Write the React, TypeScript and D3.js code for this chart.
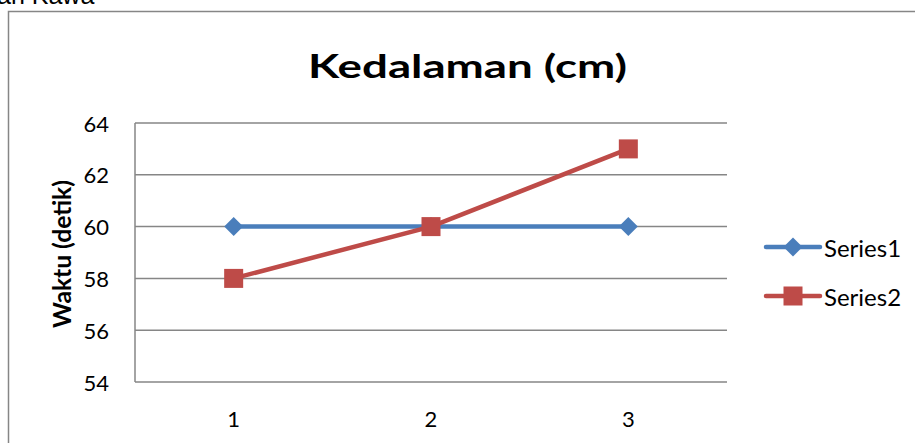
import React from "react";
import * as d3 from "d3";

const categories = ["1", "2", "3"];
const series1 = [60, 60, 60];
const series2 = [58, 60, 63];
const yTicks = [54, 56, 58, 60, 62, 64];
const seriesNames = ["Series1", "Series2"];

const W = 915;
const H = 443;
const FONT = "Lato, 'Open Sans', sans-serif";
const BLUE = "#4A7EBB";
const RED = "#BE4B48";
const GRID = "#868686";

export default function App() {
  const x = d3.scalePoint<string>().domain(categories).range([135, 727]).padding(0.5);
  const y = d3.scaleLinear().domain([54, 64]).range([382, 123]);
  const line = d3
    .line<number>()
    .x((_, i) => x(categories[i]) as number)
    .y((d) => y(d));

  const diamond = (cx: number, cy: number, r: number) =>
    `M${cx},${cy - r}L${cx + r},${cy}L${cx},${cy + r}L${cx - r},${cy}Z`;

  const legendY = [247, 296];

  return (
    <svg
      width={W}
      height={H}
      style={{ position: "absolute", left: 0, top: 0, background: "#fff" }}
      fontFamily={FONT}
    >
      <rect width={W} height={H} fill="#fff" />
      <text x={-3} y={4} fontFamily="'Liberation Sans', Arial, sans-serif" fontSize={25} fill="#000">
        an Kawa
      </text>
      <path d={`M8.5,${H}V11.5H${W}`} fill="none" stroke={GRID} strokeWidth={1.5} />

      <text
        x={308}
        y={78}
        fontSize={32}
        fontWeight="bold"
        fill="#000"
        textLength={319}
        lengthAdjust="spacingAndGlyphs"
      >
        Kedalaman (cm)
      </text>

      {yTicks.map((t) => (
        <g key={t}>
          <line x1={135} x2={727} y1={y(t)} y2={y(t)} stroke={GRID} strokeWidth={1.5} />
          <text x={109} y={y(t)} textAnchor="end" dominantBaseline="central" fontSize={22} fill="#000">
            {t}
          </text>
        </g>
      ))}
      <line x1={135} x2={135} y1={y(64)} y2={y(54)} stroke={GRID} strokeWidth={1.5} />

      {categories.map((c) => (
        <text key={c} x={x(c)} y={418} textAnchor="middle" dominantBaseline="central" fontSize={22} fill="#000">
          {c}
        </text>
      ))}

      <text
        transform={`translate(70.5,254) rotate(-90)`}
        textAnchor="middle"
        fontSize={24}
        fontWeight="bold"
        fill="#000"
        textLength={148}
        lengthAdjust="spacingAndGlyphs"
      >
        Waktu (detik)
      </text>

      <path d={line(series1) || ""} fill="none" stroke={BLUE} strokeWidth={4.5} />
      {series1.map((v, i) => (
        <path key={i} d={diamond(x(categories[i]) as number, y(v), 9.5)} fill={BLUE} />
      ))}

      <path d={line(series2) || ""} fill="none" stroke={RED} strokeWidth={4.5} />
      {series2.map((v, i) => (
        <rect
          key={i}
          x={(x(categories[i]) as number) - 9.5}
          y={y(v) - 9.5}
          width={19}
          height={19}
          fill={RED}
        />
      ))}

      {seriesNames.map((name, i) => {
        const ly = legendY[i];
        const color = i === 0 ? BLUE : RED;
        return (
          <g key={name}>
            <line x1={766} x2={820} y1={ly} y2={ly} stroke={color} strokeWidth={4.5} strokeLinecap="round" />
            {i === 0 ? (
              <path d={diamond(793, ly, 9.5)} fill={color} />
            ) : (
              <rect x={783.5} y={ly - 9.5} width={19} height={19} fill={color} />
            )}
            <text x={824} y={ly} dominantBaseline="central" fontSize={24} fill="#000">
              {name}
            </text>
          </g>
        );
      })}
    </svg>
  );
}
